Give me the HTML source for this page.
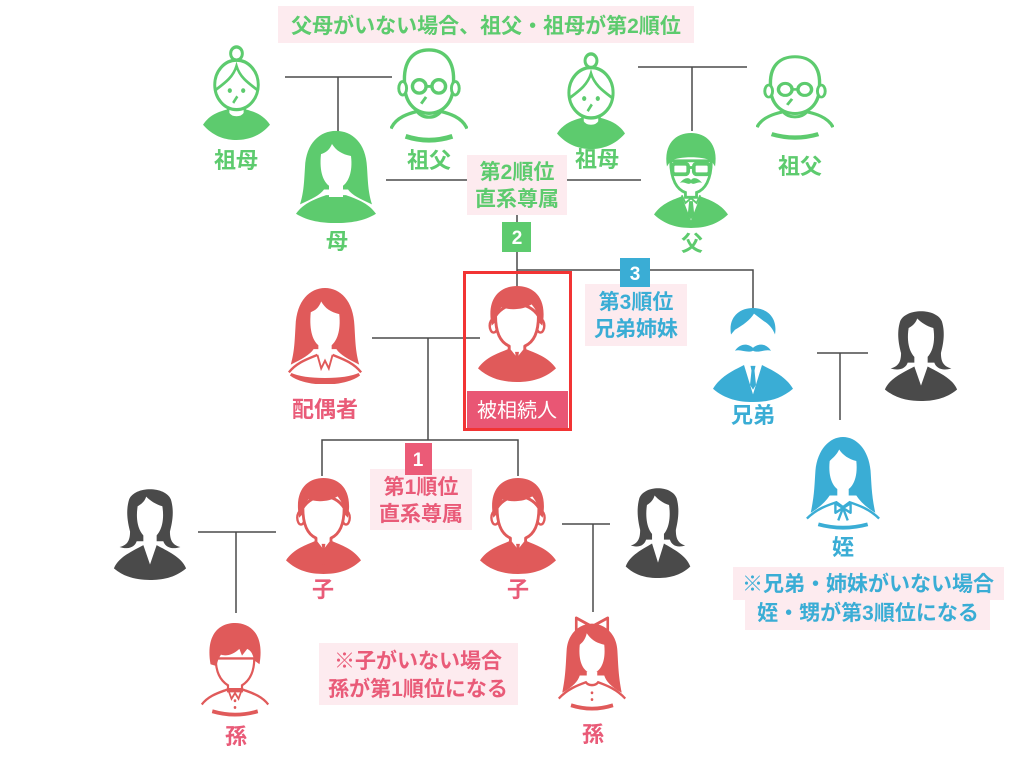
<!DOCTYPE html>
<html><head><meta charset="utf-8"><style>
html,body{margin:0;padding:0;background:#fff;}
svg{display:block;}
text{font-family:"Liberation Sans","Noto Sans CJK JP",sans-serif;font-weight:bold;}
</style></head><body>
<svg width="1024" height="768" viewBox="0 0 1024 768" xmlns="http://www.w3.org/2000/svg">
<defs>
<symbol id="man" viewBox="0 0 80 100" preserveAspectRatio="none">
 <path d="M0,86 C8,74 22,70 31,66 L49,66 C58,70 72,74 80,86 C68,97 54,100 40,100 C26,100 12,97 0,86Z" fill="currentColor"/>
 <ellipse cx="16" cy="42" rx="4" ry="7" fill="#fff" stroke="currentColor" stroke-width="2.5"/>
 <ellipse cx="64" cy="42" rx="4" ry="7" fill="#fff" stroke="currentColor" stroke-width="2.5"/>
 <path d="M18,32 C18,52 25,60 32,63 L32,67 L40,77 L48,67 L48,63 C55,60 62,52 62,32 C52,16 28,16 18,32Z" fill="#fff" stroke="currentColor" stroke-width="3" stroke-linejoin="round"/>
 <path d="M38,69 L42,69 L41.4,73 L43,88 L40,92 L37,88 L38.6,73Z" fill="currentColor"/>
 <path d="M14,42 C8,12 24,1 40,1 C56,1 72,12 66,42 L62,38 C62,30 59,25 55,20 C46,26 32,26 24,23 C20,28 18,33 18,38Z" fill="currentColor"/>
</symbol>
<symbol id="bro" viewBox="0 0 80 100" preserveAspectRatio="none">
 <path d="M18,29 C15,10 27,1 40,1 C53,1 65,10 62,29 C60,23 56,18 51,15 L41,7 C37,14 30,19 22,24Z" fill="currentColor"/>
 <path d="M22,46 C27,38 35,38 40,43 C45,38 53,38 58,46 C52,44 46,49 40,46 C34,49 28,44 22,46Z" fill="currentColor"/>
 <path d="M0,86 C8,72 22,66 31,61 L40,92 L49,61 C58,66 72,72 80,86 C68,97 54,100 40,100 C26,100 12,97 0,86Z" fill="currentColor"/>
 <path d="M37.5,62 L42.5,62 L41.5,67 L43,82 L40,87 L37,82 L38.5,67Z" fill="currentColor"/>
</symbol>
<symbol id="dad" viewBox="0 0 80 100" preserveAspectRatio="none">
 <path d="M0,86 C8,74 22,70 30,67 L40,92 L50,67 C58,70 72,74 80,86 C68,97 54,100 40,100 C26,100 12,97 0,86Z" fill="currentColor"/>
 <path d="M30,66 L34,74 L40,69 L46,74 L50,66" fill="#fff" stroke="currentColor" stroke-width="2"/>
 <path d="M38,72 L42,72 L43.5,86 L40,91 L36.5,86Z" fill="currentColor"/>
 <path d="M18,30 C18,50 25,60 34,63 L34,68 L46,68 L46,63 C55,60 62,50 62,30Z" fill="#fff" stroke="currentColor" stroke-width="3"/>
 <path d="M14,36 C10,12 24,1 40,1 C56,1 70,12 66,36 L62,30 C52,25 28,25 18,30Z" fill="currentColor"/>
 <rect x="20" y="33" width="17" height="11" rx="3" fill="none" stroke="currentColor" stroke-width="4"/>
 <rect x="43" y="33" width="17" height="11" rx="3" fill="none" stroke="currentColor" stroke-width="4"/>
 <path d="M37,37 H43" stroke="currentColor" stroke-width="3"/>
 <path d="M28,53 C33,47 38,47 40,50 C42,47 47,47 52,53 C47,51 43,56 40,53 C37,56 33,51 28,53Z" fill="currentColor"/>
</symbol>
<symbol id="wlong" viewBox="0 0 80 100" preserveAspectRatio="none">
 <path d="M4,80 C8,66 8,56 9,40 C10,14 24,1 40,1 C56,1 70,14 71,40 C72,56 72,66 76,80 C64,74 56,70 52,64 L28,64 C24,70 16,74 4,80Z" fill="currentColor"/>
 <path d="M0,90 C8,78 20,74 30,70 L50,70 C60,74 72,78 80,90 C68,98 54,100 40,100 C26,100 12,98 0,90Z" fill="currentColor"/>
 <path d="M25,26 C23,46 28,56 33,60 L33,72 L47,72 L47,60 C52,56 57,46 55,28 C46,26 40,22 36,15 C33,22 30,24 25,26Z" fill="#fff"/>
</symbol>
<symbol id="wblouse" viewBox="0 0 80 100" preserveAspectRatio="none">
 <path d="M4,80 C8,66 8,56 9,40 C10,14 24,1 40,1 C56,1 70,14 71,40 C72,56 72,66 76,80 C64,74 56,70 52,64 L28,64 C24,70 16,74 4,80Z" fill="currentColor"/>
 <path d="M25,26 C23,46 28,56 33,60 L33,72 L47,72 L47,60 C52,56 57,46 55,28 C46,26 40,22 36,15 C33,22 30,24 25,26Z" fill="#fff"/>
 <path d="M2,88 C10,78 22,74 32,70 M48,70 C58,74 70,78 78,88" fill="none" stroke="currentColor" stroke-width="2.5"/>
 <path d="M32,70 L36,84 L40,76 L44,84 L48,70" fill="none" stroke="currentColor" stroke-width="2"/>
 <path d="M4,90 C20,102 60,102 76,90 C60,97 20,97 4,90Z" fill="currentColor" stroke="currentColor" stroke-width="3"/>
</symbol>
<symbol id="niece" viewBox="0 0 80 100" preserveAspectRatio="none">
 <path d="M6,80 C10,62 10,50 11,36 C13,14 26,1 40,1 C54,1 67,14 69,36 C70,50 70,62 74,80 C64,74 58,68 54,62 L26,62 C22,68 16,74 6,80Z" fill="currentColor"/>
 <path d="M26,26 C24,44 30,56 40,58 C50,56 56,44 54,26 C46,24 40,20 36,14 C33,20 30,22 26,26Z" fill="#fff"/>
 <path d="M34,54 H46 V70 H34Z" fill="#fff"/>
 <path d="M2,86 C12,76 24,72 33,69 L40,74 L47,69 C56,72 68,76 78,86" fill="none" stroke="currentColor" stroke-width="2.5"/>
 <path d="M40,75 L32,70 L32,80Z M40,75 L48,70 L48,80Z" fill="#fff" stroke="currentColor" stroke-width="2.5" stroke-linejoin="round"/>
 <path d="M40,75 L35,88 M40,75 L45,88" stroke="currentColor" stroke-width="2.5"/>
 <path d="M14,92 Q40,99 66,92" fill="none" stroke="currentColor" stroke-width="4"/>
</symbol>
<symbol id="wdark" viewBox="0 0 80 100" preserveAspectRatio="none">
 <path d="M8,66 C17,64 19,58 19,50 C17,42 14,30 18,17 C24,3 56,3 62,17 C66,30 63,42 61,50 C61,58 63,64 72,66 C63,69 56,66 54,60 L26,60 C24,66 17,69 8,66Z" fill="currentColor"/>
 <path d="M27,24 C24,42 30,56 40,58 C50,56 56,42 53,24 C46,22 40,18 36,14 C34,20 30,22 27,24Z" fill="#fff"/>
 <path d="M33,50 H47 V66 H33Z" fill="#fff"/>
 <path d="M2,88 C7,76 22,70 33,64 L40,84 L47,64 C58,70 73,76 78,88 C66,98 52,100 40,100 C28,100 14,98 2,88Z" fill="currentColor"/>
</symbol>
<symbol id="girl" viewBox="0 0 80 100" preserveAspectRatio="none">
 <path d="M22,2 L38,10 L22,18Z M58,2 L42,10 L58,18Z" fill="#fff" stroke="currentColor" stroke-width="3" stroke-linejoin="round"/>
 <path d="M6,80 C10,62 10,50 11,36 C12,18 26,8 40,8 C54,8 68,18 69,36 C70,50 70,62 74,80 C62,74 56,68 54,62 L26,62 C24,68 18,74 6,80Z" fill="currentColor"/>
 <path d="M26,30 C24,48 30,58 40,60 C50,58 56,48 54,30 C46,28 40,26 34,18 C32,26 28,28 26,30Z" fill="#fff"/>
 <path d="M34,58 H46 V70 H34Z" fill="#fff"/>
 <path d="M2,86 C12,76 24,72 33,69 C36,73 44,73 47,69 C56,72 68,76 78,86" fill="none" stroke="currentColor" stroke-width="2.5"/>
 <path d="M16,93 Q40,100 64,93" fill="none" stroke="currentColor" stroke-width="4"/>
 <circle cx="40" cy="80" r="1.5" fill="currentColor"/><circle cx="40" cy="87" r="1.5" fill="currentColor"/>
</symbol>
<symbol id="boy" viewBox="0 0 80 100" preserveAspectRatio="none">
 <path d="M18,38 C18,54 25,62 32,66 L32,72 L48,72 L48,66 C55,62 62,54 62,38Z" fill="#fff" stroke="currentColor" stroke-width="2.5"/>
 <path d="M12,44 C6,12 23,1 40,1 C57,1 74,12 68,44 L62,40 C60,32 58,30 54,28 L48,35 L45,28 C38,34 30,36 24,34 C21,38 20,41 19,46Z" fill="currentColor"/>
 <path d="M2,86 C10,76 24,73 32,70 L48,70 C56,73 70,76 78,86" fill="none" stroke="currentColor" stroke-width="2.5"/>
 <path d="M32,70 L36,80 L40,74 L44,80 L48,70" fill="none" stroke="currentColor" stroke-width="2"/>
 <path d="M14,93 Q40,100 66,93" fill="none" stroke="currentColor" stroke-width="4"/>
 <circle cx="40" cy="82" r="1.5" fill="currentColor"/><circle cx="40" cy="89" r="1.5" fill="currentColor"/>
</symbol>
<symbol id="granny" viewBox="0 0 80 100" preserveAspectRatio="none">
 <path d="M0,84 C8,73 20,70 28,68 L52,68 C60,70 72,73 80,84 C68,96 54,100 40,100 C26,100 12,96 0,84Z" fill="currentColor"/>
 <path d="M30,60 L30,72 C34,78 46,78 50,72 L50,60Z" fill="#fff" stroke="currentColor" stroke-width="3"/>
 <circle cx="40" cy="9" r="7" fill="#fff" stroke="currentColor" stroke-width="3.5"/>
 <ellipse cx="40" cy="42" rx="26" ry="26" fill="#fff" stroke="currentColor" stroke-width="3.5"/>
 <path d="M14,48 C26,40 36,34 40,22 C44,34 54,40 66,48" fill="none" stroke="currentColor" stroke-width="3"/>
 <circle cx="32" cy="48" r="2.5" fill="currentColor"/><circle cx="48" cy="48" r="2.5" fill="currentColor"/>
 <path d="M36,61 L41,54" stroke="currentColor" stroke-width="3"/>
</symbol>
<symbol id="gpa" viewBox="0 0 80 100" preserveAspectRatio="none">
 <path d="M1,84 C6,72 20,68 28,66 M52,66 C60,68 74,72 79,84" fill="none" stroke="currentColor" stroke-width="3.5"/>
 <path d="M28,58 L28,66 C33,74 47,74 52,66 L52,58" fill="#fff" stroke="currentColor" stroke-width="3.5"/>
 <path d="M15,38 C13,12 25,2 40,2 C55,2 67,12 65,38 C65,56 55,68 40,68 C25,68 15,56 15,38Z" fill="#fff" stroke="currentColor" stroke-width="3.5"/>
 <ellipse cx="13" cy="42" rx="4" ry="7" fill="#fff" stroke="currentColor" stroke-width="3"/>
 <ellipse cx="67" cy="42" rx="4" ry="7" fill="#fff" stroke="currentColor" stroke-width="3"/>
 <circle cx="30" cy="40" r="7" fill="none" stroke="currentColor" stroke-width="3.5"/>
 <circle cx="50" cy="40" r="7" fill="none" stroke="currentColor" stroke-width="3.5"/>
 <path d="M37,40 H43" stroke="currentColor" stroke-width="3"/>
 <path d="M32,58 L37,51" stroke="currentColor" stroke-width="3"/>
 <path d="M16,92 Q40,100 64,92" fill="none" stroke="currentColor" stroke-width="5"/>
</symbol>
</defs>

<!-- connector lines -->
<g stroke="#4a4a4a" stroke-width="1.5" fill="none">
 <path d="M285,77 H392 M338,77 V131"/>
 <path d="M638,67 H747 M692,67 V131"/>
 <path d="M386,180 H468 M567,180 H641"/>
 <path d="M517,215 V222 M517,252 V287"/>
 <path d="M517,270 H753 V308"/>
 <path d="M372,338 H480 M428,338 V440"/>
 <path d="M322,476 V440 H518 V476"/>
 <path d="M198,532 H276 M236,532 V613"/>
 <path d="M562,524 H610 M593,524 V612"/>
 <path d="M817,353 H868 M840,353 V420"/>
</g>

<!-- boxes -->
<g fill="#fdebef">
 <rect x="278" y="6" width="416" height="37"/>
 <rect x="467" y="155" width="100" height="60"/>
 <rect x="585" y="284" width="102" height="62"/>
 <rect x="370" y="469" width="102" height="61"/>
 <rect x="319" y="643" width="199" height="62"/>
 <rect x="733" y="567" width="271" height="33"/>
 <rect x="745" y="598" width="245" height="32"/>
</g>
<rect x="502" y="222" width="29" height="30" fill="#5dcb6e"/>
<rect x="620" y="258" width="30" height="29" fill="#3aadd5"/>
<rect x="405" y="443" width="27" height="32" fill="#eb5b77"/>

<!-- icons -->
<use href="#granny" x="203" y="45" width="67" height="95" style="color:#5dcb6e"/>
<use href="#gpa" x="390" y="48" width="78" height="96" style="color:#5dcb6e"/>
<use href="#wlong" x="296" y="130" width="80" height="93" style="color:#5dcb6e"/>
<use href="#granny" x="557" y="52" width="68" height="97" style="color:#5dcb6e"/>
<use href="#gpa" x="756" y="55" width="78" height="86" style="color:#5dcb6e"/>
<use href="#dad" x="654" y="132" width="74" height="96" style="color:#5dcb6e"/>

<use href="#wblouse" x="287" y="287" width="76" height="97" style="color:#e05a5a"/>
<use href="#man" x="478" y="285" width="78" height="97" style="color:#e05a5a"/>
<use href="#bro" x="713" y="307" width="80" height="95" style="color:#3aadd5"/>
<use href="#wdark" x="883" y="305" width="76" height="96" style="color:#4a4a4a"/>

<use href="#man" x="286" y="477" width="75" height="97" style="color:#e05a5a"/>
<use href="#man" x="480" y="477" width="76" height="97" style="color:#e05a5a"/>
<use href="#wdark" x="112" y="483" width="76" height="97" style="color:#4a4a4a"/>
<use href="#wdark" x="624" y="482" width="68" height="96" style="color:#4a4a4a"/>
<use href="#niece" x="805" y="436" width="76" height="96" style="color:#3aadd5"/>
<use href="#boy" x="200" y="622" width="70" height="96" style="color:#e05a5a"/>
<use href="#girl" x="557" y="616" width="70" height="96" style="color:#e05a5a"/>

<!-- 被相続人 box -->
<rect x="467" y="391" width="101" height="37" fill="#e95674"/>
<rect x="464.5" y="272.5" width="106" height="157" fill="none" stroke="#f23434" stroke-width="3"/>
<text x="517" y="417" font-size="20" fill="#fff" text-anchor="middle" style="font-weight:normal">被相続人</text>

<!-- labels -->
<g font-size="22" text-anchor="middle" fill="#5dcb6e">
 <text x="486" y="33" font-size="21">父母がいない場合、祖父・祖母が第2順位</text>
 <text x="236" y="168">祖母</text>
 <text x="429" y="168">祖父</text>
 <text x="337" y="249">母</text>
 <text x="597" y="167">祖母</text>
 <text x="800" y="174">祖父</text>
 <text x="692" y="251">父</text>
 <text x="517" y="179" font-size="21">第2順位</text>
 <text x="517" y="206" font-size="21">直系尊属</text>
</g>
<g font-size="22" text-anchor="middle" fill="#3aadd5">
 <text x="636" y="309" font-size="21">第3順位</text>
 <text x="636" y="336" font-size="21">兄弟姉妹</text>
 <text x="753" y="423">兄弟</text>
 <text x="843" y="555">姪</text>
 <text x="868" y="591" font-size="21">※兄弟・姉妹がいない場合</text>
 <text x="868" y="620" font-size="21">姪・甥が第3順位になる</text>
</g>
<g font-size="22" text-anchor="middle" fill="#e95b78">
 <text x="325" y="417">配偶者</text>
 <text x="421" y="494" font-size="21">第1順位</text>
 <text x="421" y="521" font-size="21">直系尊属</text>
 <text x="323" y="597">子</text>
 <text x="518" y="597">子</text>
 <text x="236" y="744">孫</text>
 <text x="593" y="742">孫</text>
 <text x="418" y="668" font-size="21">※子がいない場合</text>
 <text x="418" y="696" font-size="21">孫が第1順位になる</text>
</g>
<g font-size="19" text-anchor="middle" fill="#fff" style="font-weight:normal">
 <text x="517" y="244">2</text>
 <text x="635" y="280">3</text>
 <text x="418" y="466">1</text>
</g>
</svg>
</body></html>
